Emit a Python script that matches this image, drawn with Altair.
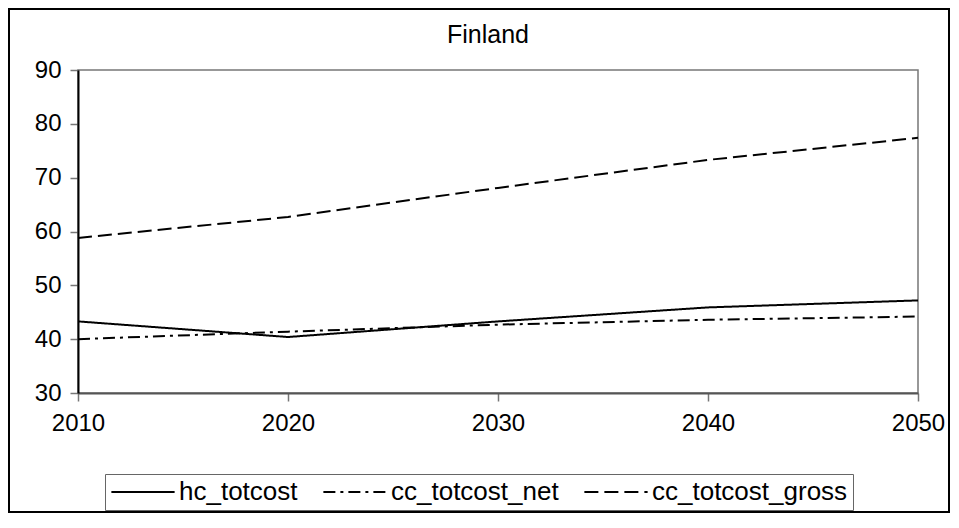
import altair as alt
import pandas as pd

years = [2010, 2020, 2030, 2040, 2050]
series_names = ["hc_totcost", "cc_totcost_net", "cc_totcost_gross"]
hc_totcost = [43.3, 40.4, 43.3, 45.9, 47.2]
cc_totcost_net = [40.0, 41.4, 42.7, 43.6, 44.2]
cc_totcost_gross = [58.8, 62.7, 68.1, 73.3, 77.4]
y_ticks = [30, 40, 50, 60, 70, 80, 90]
x_ticks = [2010, 2020, 2030, 2040, 2050]

rows = []
for name, vals in zip(series_names, [hc_totcost, cc_totcost_net, cc_totcost_gross]):
    for yr, v in zip(years, vals):
        rows.append({"year": yr, "value": v, "series": name})
df = pd.DataFrame(rows)

W, H = 840, 323
PL, PT, PR, PB = 70, 62, 33, 120
FONT = "Liberation Sans"

lines = alt.Chart(df).mark_line(strokeWidth=2, color="black").encode(
    x=alt.X("year:Q", scale=alt.Scale(domain=[2010, 2050], nice=False, zero=False),
            axis=alt.Axis(values=x_ticks, format="d", title=None, grid=False,
                          domainColor="#555555", domainWidth=2,
                          tickColor="#777777", tickWidth=1.5, tickSize=8,
                          labelFontSize=24, labelFont=FONT, labelColor="black",
                          labelPadding=10, labelFlush=False)),
    y=alt.Y("value:Q", scale=alt.Scale(domain=[30, 90], nice=False, zero=False),
            axis=alt.Axis(values=y_ticks, title=None, grid=False,
                          domainColor="black", domainWidth=2,
                          tickColor="#777777", tickWidth=1.5, tickSize=8,
                          labelFontSize=24, labelFont=FONT, labelColor="black",
                          labelPadding=9)),
    strokeDash=alt.StrokeDash(
        "series:N",
        scale=alt.Scale(domain=series_names, range=[[1, 0], [12, 5, 3, 5], [14, 6]]),
        sort=series_names,
        legend=alt.Legend(
            title=None, orient="none", legendX=27, legendY=404,
            direction="horizontal", symbolType="stroke", symbolSize=4000,
            symbolStrokeWidth=2, symbolStrokeColor="black", clipHeight=26,
            labelFontSize=26, labelFont=FONT, labelColor="black", labelLimit=400,
            labelOffset=3, columnPadding=24, padding=5,
            strokeColor="#666666",
        ),
    ),
)

frame = alt.Chart(pd.DataFrame({"k": [0]})).mark_rect(
    fill="transparent", stroke="black", strokeWidth=2
).encode(
    x=alt.value(-69), x2=alt.value(W + PR - 2),
    y=alt.value(-61), y2=alt.value(H + PB - 1),
)

chart = alt.layer(frame, lines).properties(
    width=W, height=H,
    title=alt.Title("Finland", fontSize=25, font=FONT, fontWeight="normal",
                    color="black", anchor="middle", frame="group",
                    baseline="alphabetic", offset=-60, dx=-10),
    padding={"left": PL, "top": PT, "right": PR, "bottom": PB},
    autosize=alt.AutoSizeParams(type="none"),
).configure_view(stroke="#777777", strokeWidth=1.5)

chart.save("out.html", embed_options={"renderer": "svg", "actions": False})
